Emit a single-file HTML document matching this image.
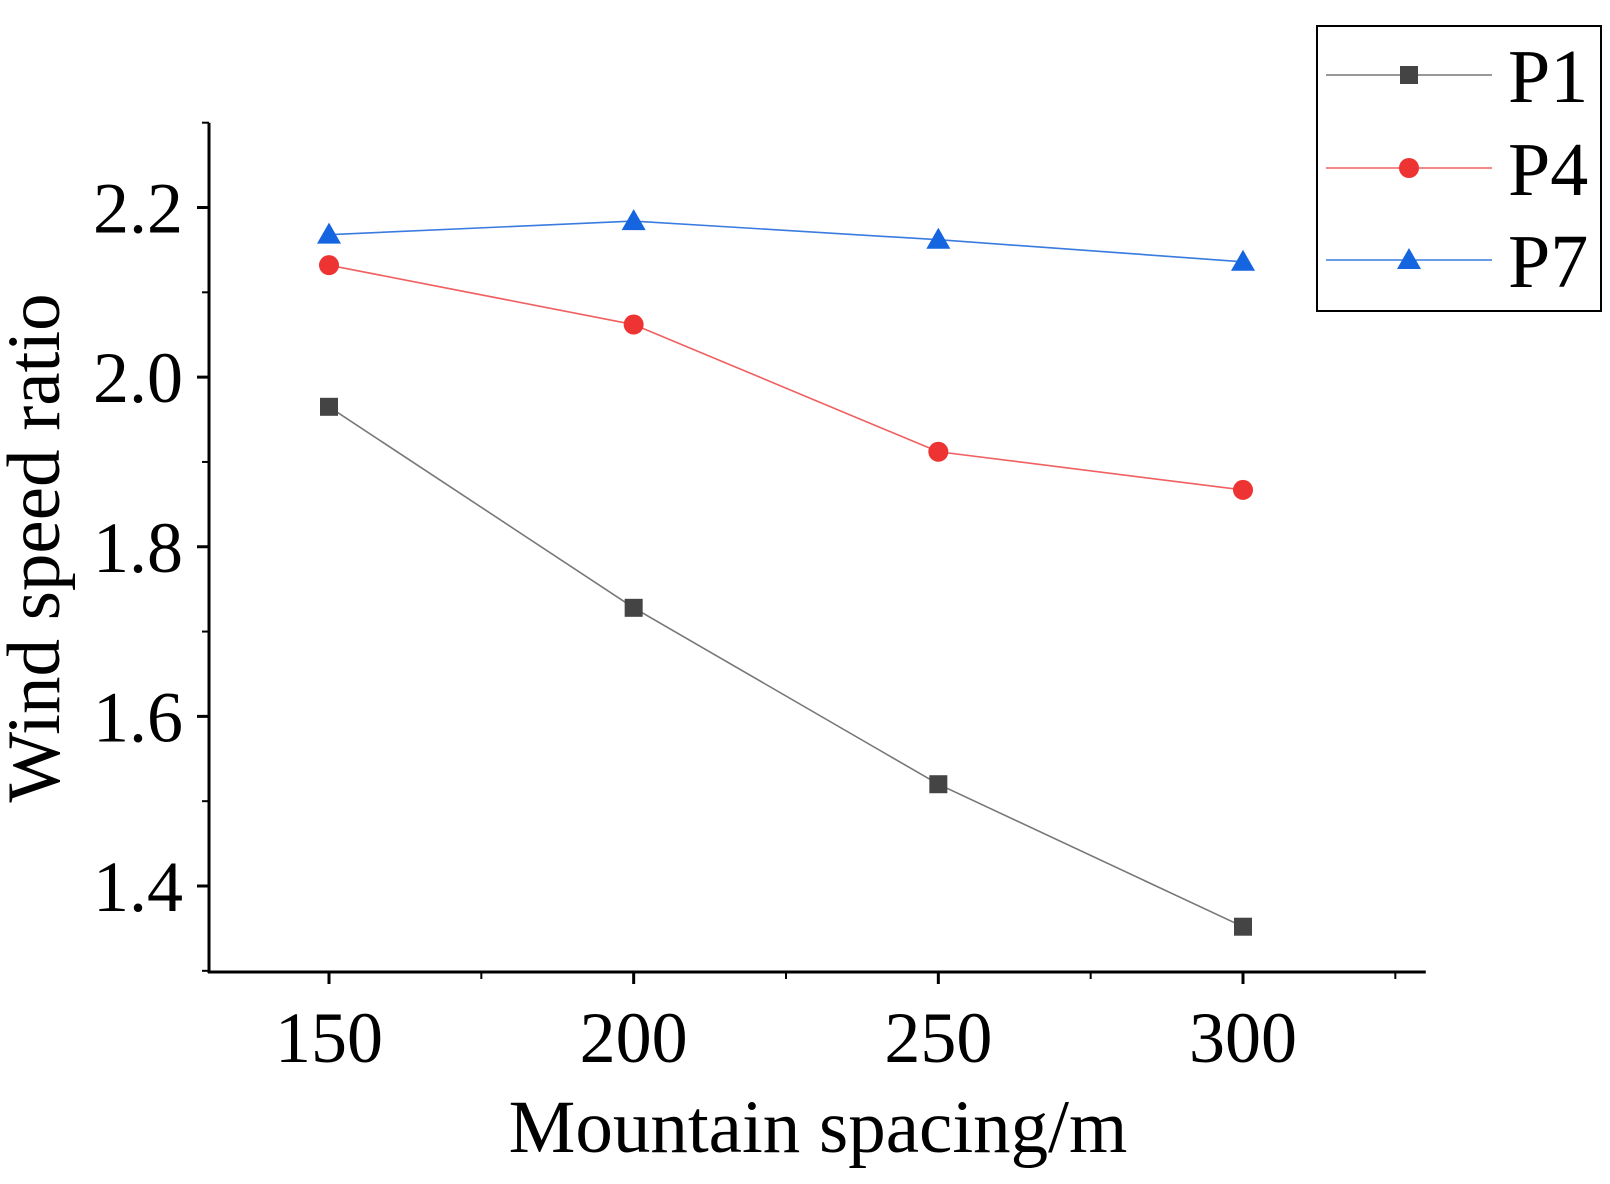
<!DOCTYPE html>
<html><head><meta charset="utf-8"><style>
html,body{margin:0;padding:0;background:#fff;}
svg text{font-family:"Liberation Serif",serif;fill:#000;}
</style></head><body>
<svg id="chart" width="1610" height="1179" viewBox="0 0 1610 1179" xmlns="http://www.w3.org/2000/svg">
<g id="axes"></g>
<g id="series"></g>
<text x="0" y="0" transform="translate(59,548) rotate(-90)" text-anchor="middle" font-size="75">Wind speed ratio</text>
<text x="818" y="1152" text-anchor="middle" font-size="75">Mountain spacing/m</text>
<g>
<rect x="1317" y="26" width="284" height="285" fill="#fff" stroke="#000" stroke-width="2"/>
<g id="legend-entries"></g>
</g>
</svg>
<script>
const categories=[150,200,250,300];
const p1=[1.965,1.728,1.520,1.352];
const p4=[2.132,2.062,1.912,1.867];
const p7=[2.168,2.184,2.162,2.136];
const yTicks=[1.4,1.6,1.8,2.0,2.2];
const yTickLabels=["1.4","1.6","1.8","2.0","2.2"];
const xTicks=[150,200,250,300];
const xTickLabels=["150","200","250","300"];
const seriesNames=["P1","P4","P7"];

const NS="http://www.w3.org/2000/svg";
const X0=209, Y0=972;
function xs(v){return 329+(v-150)*(1243-329)/150;}
function ys(v){return 886-(v-1.4)*(886-207.5)/0.8;}
function mk(tag,attrs,parent){const e=document.createElementNS(NS,tag);for(const k in attrs)e.setAttribute(k,attrs[k]);parent.appendChild(e);return e;}
const axes=document.getElementById('axes');
let e;
e=mk('line',{x1:X0,y1:Y0+1,x2:X0,y2:ys(2.3),stroke:'#000','stroke-width':3},axes);


e=mk('line',{x1:X0-1,y1:Y0,x2:xs(330),y2:Y0,stroke:'#000','stroke-width':3},axes);


for(let i=0;i<yTicks.length;i++){
  const y=ys(yTicks[i]);
  e=mk('line',{x1:X0-12,y1:y,x2:X0,y2:y,stroke:'#000','stroke-width':3},axes);
  
  
  e=mk('text',{x:X0-26,y:y+25,'text-anchor':'end','font-size':72},axes);
  e.textContent=yTickLabels[i];
  
  
}
for(let v=1.3;v<2.35;v+=0.2){
  const y=ys(v);
  e=mk('line',{x1:X0-7,y1:y,x2:X0,y2:y,stroke:'#000','stroke-width':2},axes);
  
  
}
for(let i=0;i<xTicks.length;i++){
  const x=xs(xTicks[i]);
  e=mk('line',{x1:x,y1:Y0,x2:x,y2:Y0+12,stroke:'#000','stroke-width':3},axes);
  
  
  e=mk('text',{x:x,y:1062,'text-anchor':'middle','font-size':72},axes);
  e.textContent=xTickLabels[i];
  
  
}
for(let v=175;v<=325;v+=50){
  const x=xs(v);
  e=mk('line',{x1:x,y1:Y0,x2:x,y2:Y0+7,stroke:'#000','stroke-width':2},axes);
  
  
}
const sg=document.getElementById('series');
const cfg=[{d:p1,c:'#444',lc:'#777',m:'sq'},{d:p4,c:'#ee3333',lc:'#f06060',m:'ci'},{d:p7,c:'#1565e0',lc:'#3a7be0',m:'tr'}];
function marker(type,x,y,color,parent){
  if(type==='sq')return mk('rect',{x:x-9,y:y-9,width:18,height:18,fill:color},parent);
  if(type==='ci')return mk('circle',{cx:x,cy:y,r:10,fill:color},parent);
  return mk('polygon',{points:`${x},${y-12} ${x-12},${y+9} ${x+12},${y+9}`,fill:color},parent);
}
cfg.forEach((s,si)=>{
  const g=mk('g',{},sg);
  
  
  const pts=s.d.map((v,i)=>xs(categories[i])+','+ys(v)).join(' ');
  e=mk('polyline',{points:pts,fill:'none',stroke:s.lc,'stroke-width':1.6},g);
  
  
  s.d.forEach((v,i)=>{
    e=marker(s.m,xs(categories[i]),ys(v),s.c,g);
    
    
  });
});
const lg=document.getElementById('legend-entries');
const ly=[75,168,260];
cfg.forEach((s,si)=>{
  const g=mk('g',{},lg);
  
  
  mk('line',{x1:1326,y1:ly[si],x2:1492,y2:ly[si],stroke:s.lc,'stroke-width':1.6},g);
  marker(s.m,1409,ly[si],s.c,g);
  const t=mk('text',{x:1508,y:ly[si]+27,'font-size':76},g);
  t.textContent=seriesNames[si];
});
</script>
</body></html>
